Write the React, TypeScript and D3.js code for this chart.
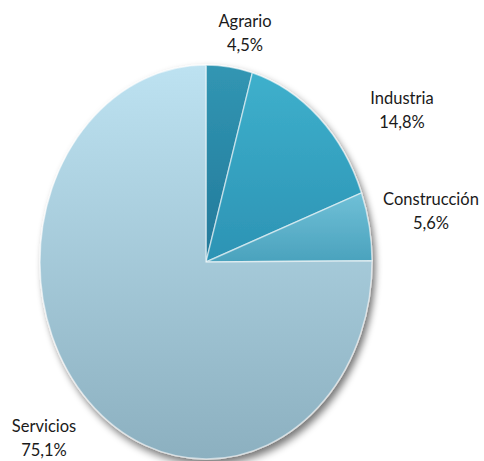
import * as d3 from "d3";

const sectors = ["Agrario", "Industria", "Construcción", "Servicios"];
const shares = [4.5, 14.8, 5.6, 75.1];
const shareLabels = ["4,5%", "14,8%", "5,6%", "75,1%"];

const width = 484;
const height = 461;
const center = { x: 206, y: 262 };
const radiusX = 166;
const radiusY = 197;
const unit = 100;

// top / bottom stops of the vertical gradient for every slice
const fills = [
  ["#3196b3", "#23799a"],
  ["#3eb0cc", "#2c93b4"],
  ["#70c0d7", "#4aa2bd"],
  ["#bde2f1", "#8cb0c0"],
];

// label anchors (x centre, first baseline)
const labelSpots = [
  [245, 27],
  [402, 104],
  [431, 205],
  [44, 432],
];

export default function App() {
  const pie = d3
    .pie<number>()
    .sort(null)
    .value((d) => d);
  const arcs = pie(shares);
  const arc = d3.arc<d3.PieArcDatum<number>>().innerRadius(0).outerRadius(unit);

  return (
    <svg width={width} height={height} style={{ display: "block", position: "absolute", left: 0, top: 0 }}>
      <defs>
        {fills.map(([top, bottom], i) => (
          <linearGradient key={i} id={`slice-${i}`} x1="0" y1="0" x2="0" y2="1">
            <stop offset="0%" stopColor={top} />
            <stop offset="100%" stopColor={bottom} />
          </linearGradient>
        ))}
        <filter id="shadow" x="-10%" y="-10%" width="125%" height="125%">
          <feGaussianBlur in="SourceAlpha" stdDeviation="2.2" />
          <feOffset dx="2" dy="2.5" result="blur" />
          <feComponentTransfer>
            <feFuncA type="linear" slope="0.55" />
          </feComponentTransfer>
          <feMerge>
            <feMergeNode />
            <feMergeNode in="SourceGraphic" />
          </feMerge>
        </filter>
      </defs>

      <g filter="url(#shadow)" transform={`translate(${center.x},${center.y}) scale(${radiusX / unit},${radiusY / unit})`}>
        {arcs.map((a, i) => (
          <path
            key={sectors[i]}
            d={arc(a) ?? ""}
            fill={`url(#slice-${i})`}
            stroke="rgba(255,255,255,0.55)"
            strokeWidth={1.4}
            vectorEffect="non-scaling-stroke"
            strokeLinejoin="round"
          />
        ))}
      </g>

      {sectors.map((name, i) => (
        <text
          key={name}
          x={labelSpots[i][0]}
          y={labelSpots[i][1]}
          textAnchor="middle"
          fontFamily="Lato, 'Open Sans', sans-serif"
          fontSize={16.5}
          fill="#1a1a1a"
        >
          <tspan x={labelSpots[i][0]}>{name}</tspan>
          <tspan x={labelSpots[i][0]} dy={24}>
            {shareLabels[i]}
          </tspan>
        </text>
      ))}
    </svg>
  );
}
